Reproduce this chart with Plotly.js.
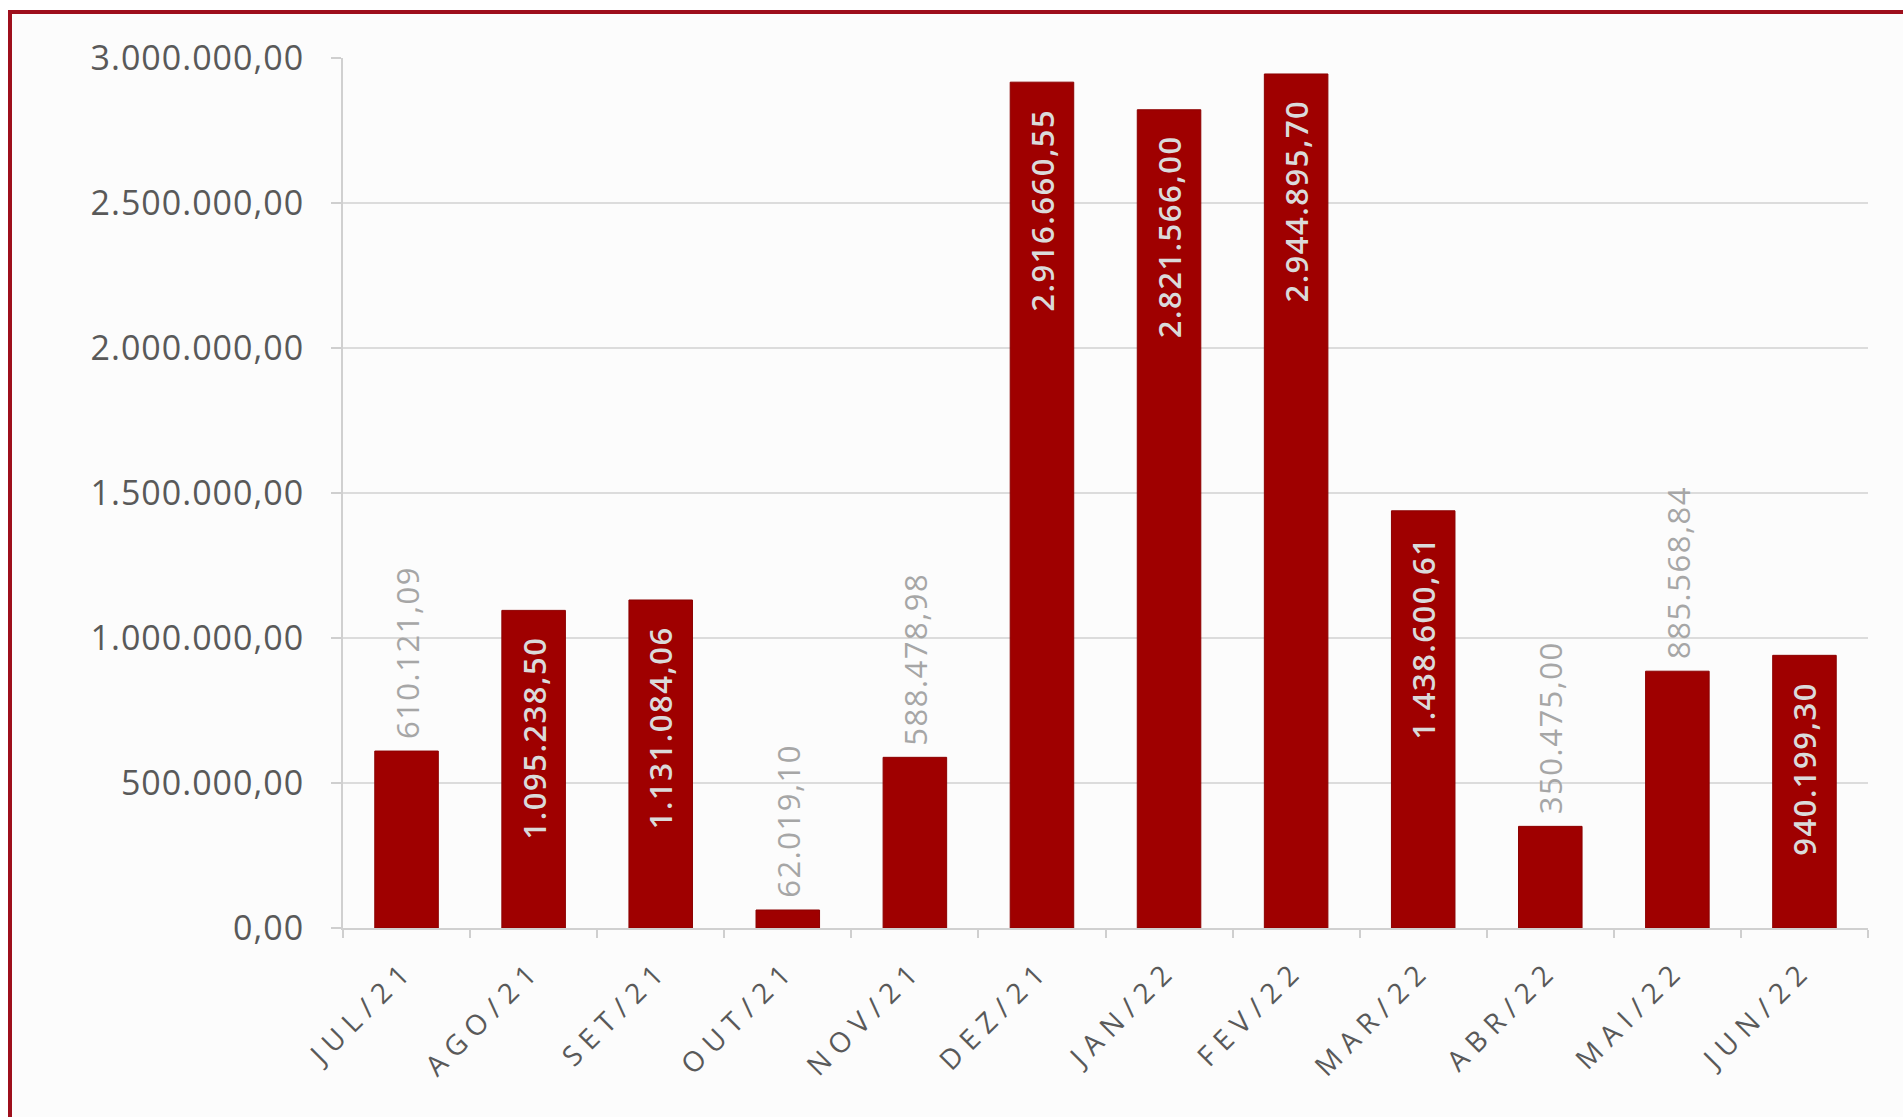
<!DOCTYPE html>
<html><head><meta charset="utf-8">
<script src="https://cdn.plot.ly/plotly-3.0.1.min.js"></script>
<style>
html,body{margin:0;padding:0;background:#fff;width:1903px;height:1117px;overflow:hidden}
#frame{position:absolute;left:8px;top:10px;width:1910px;height:1120px;border-left:4px solid #9e0f1c;border-top:4px solid #9e0f1c;background:#fcfcfc}
#chart{position:absolute;left:0;top:0;width:1903px;height:1117px}
.xtick text{letter-spacing:8px}
.ytick text{letter-spacing:1px}
.annotation-text{letter-spacing:1.5px}
</style></head><body>
<div id="frame"></div><div id="chart"></div>
<script>
const months = ['JUL/21','AGO/21','SET/21','OUT/21','NOV/21','DEZ/21','JAN/22','FEV/22','MAR/22','ABR/22','MAI/22','JUN/22'];
const values = [610121.09, 1095238.50, 1131084.06, 62019.10, 588478.98, 2916660.55, 2821566.00, 2944895.70, 1438600.61, 350475.00, 885568.84, 940199.30];
const labelPositions = ['outside','inside','inside','outside','outside','inside','inside','inside','inside','outside','outside','inside'];
const yTicks = [0, 500000, 1000000, 1500000, 2000000, 2500000, 3000000];

const FONT = 'Open Sans, Noto Sans, sans-serif';

function fmtBR(v) {
  const parts = v.toFixed(2).split('.');
  return parts[0].replace(/\B(?=(\d{3})+(?!\d))/g, '.') + ',' + parts[1];
}

const trace = {
  type: 'bar',
  x: months,
  y: values,
  marker: {color: '#9f0000', line: {color: '#8c0000', width: 1}},
  hoverinfo: 'skip'
};

const annotations = months.map((m, i) => {
  const inside = labelPositions[i] === 'inside';
  return {
    x: m, y: values[i], xref: 'x', yref: 'y',
    text: fmtBR(values[i]),
    textangle: -90,
    showarrow: false,
    xanchor: 'center',
    yanchor: inside ? 'top' : 'bottom',
    yshift: inside ? -24 : 10,
    font: inside
      ? {family: FONT, size: 31, color: '#dadada', weight: 600}
      : {family: FONT, size: 31, color: '#a6a6a6'}
  };
});

const layout = {
  width: 1903, height: 1117,
  margin: {l: 343, r: 35, t: 58, b: 189},
  paper_bgcolor: 'rgba(0,0,0,0)',
  plot_bgcolor: 'rgba(0,0,0,0)',
  separators: ',.',
  showlegend: false,
  bargap: 0.5,
  font: {family: FONT, color: '#595959'},
  annotations: annotations,
  xaxis: {
    type: 'category',
    tickson: 'boundaries',
    ticks: 'outside', ticklen: 8, tickwidth: 2, tickcolor: '#cfcfcf',
    showline: true, linecolor: '#d0d0d0', linewidth: 2,
    showgrid: false,
    tickangle: -45,
    ticklabelstandoff: 12,
    tickfont: {family: FONT, size: 28, color: '#595959'}
  },
  yaxis: {
    range: [0, 3000000],
    tickvals: yTicks,
    tickformat: ',.2f',
    showgrid: true, gridcolor: '#dcdcdc', gridwidth: 2,
    zeroline: false,
    showline: true, linecolor: '#d0d0d0', linewidth: 2,
    ticks: 'outside', ticklen: 10, tickwidth: 2, tickcolor: '#cfcfcf',
    ticklabelstandoff: 20,
    tickfont: {family: FONT, size: 34, color: '#595959'}
  }
};

Plotly.newPlot('chart', [trace], layout, {staticPlot: true, displayModeBar: false});
</script>
</body></html>
